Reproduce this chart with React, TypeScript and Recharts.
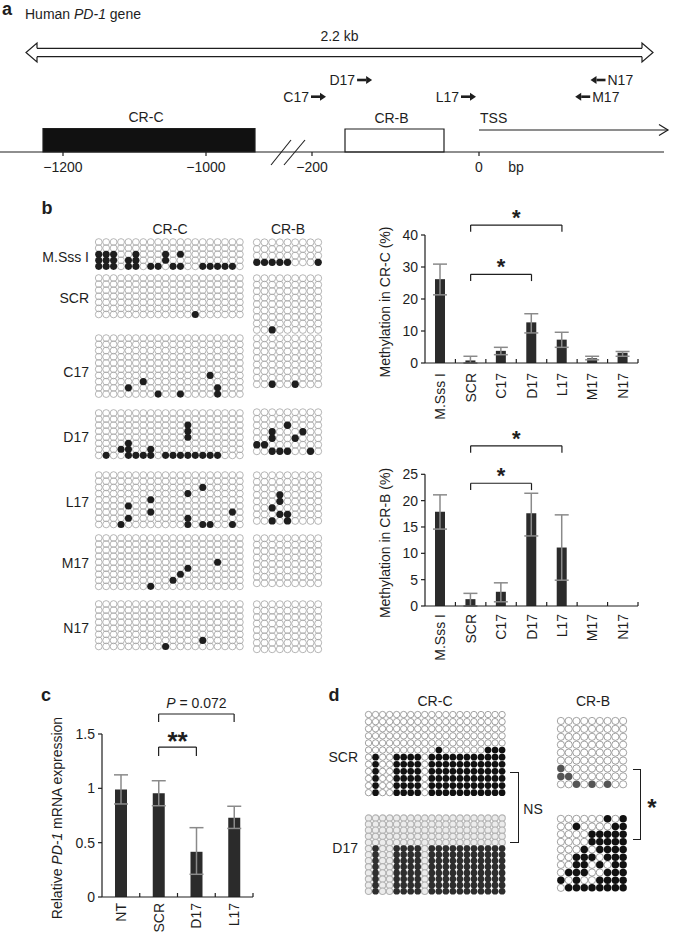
import React from "react";
import {
  Bar,
  BarChart,
  ErrorBar,
  ReferenceArea,
  ReferenceLine,
  Scatter,
  ScatterChart,
  XAxis,
  YAxis,
} from "recharts";

const FONT = '"Liberation Sans", Arial, Helvetica, sans-serif';
const INK = "#1e1e1e";

// ---- panel a: gene map (schematic map units, not to scale) ----
const geneBoxes = [
  { name: "CR-C", start: 43, end: 255, height: 23.5, filled: true },
  { name: "CR-B", start: 345, end: 444, height: 23, filled: false },
];
const tssPos = 479;
const tssEnd = 668;
const spanStart = 26;
const spanEnd = 653;
const breakPos = 288;
const mapTicks = [63, 206, 312, 479, 516];
const mapTickLabels = ["\u22121200", "\u22121000", "\u2212200", "0", "bp"];
const primerNames = ["D17", "C17", "L17", "N17", "M17"];
const primerPos = [364.6, 318.5, 468.5, 598, 582.7];
const primerLane = [2, 1, 1, 2, 1];
const primerDir = [1, 1, 1, -1, -1];

// ---- panel b: bisulfite clones, "1" = methylated CpG ----
const crcMsss = [
  "00000000000000000000",
  "00000000000000000000",
  "11100100010100000000",
  "11101100010000000000",
  "11101101101100111110",
];
const crbMsss = ["000000000", "000000000", "000000000", "111110001"];
const crcScr = [
  "00000000000000000000",
  "00000000000000000000",
  "00000000000000000000",
  "00000000000000000000",
  "00000000000000000000",
  "00000000000000000000",
  "00000000000001000000",
];
const crbScr = [
  "000000000",
  "000000000",
  "000000000",
  "000000000",
  "000000000",
  "000000000",
  "000000000",
  "000000000",
  "001000000",
];
const crcC17 = [
  "00000000000000000000",
  "00000000000000000000",
  "00000000000000000000",
  "00000000000000000000",
  "00000000000000000000",
  "00000000000000000000",
  "00000000000000010000",
  "00000010000000000000",
  "00001000000000001000",
  "00000000100100001000",
];
const crbC17 = [
  "000000000",
  "000000000",
  "000000000",
  "000000000",
  "000000000",
  "000000000",
  "000000000",
  "001001000",
];
const crcD17 = [
  "00000000000000000000",
  "00000000000000000000",
  "00000000000010000000",
  "00000000000010000000",
  "00000000000010000000",
  "00001000000000000000",
  "00011001000000000000",
  "01001111011111111000",
];
const crbD17 = [
  "000000000",
  "000000000",
  "000010000",
  "001000100",
  "001001000",
  "110000000",
  "001110010",
];
const crcL17 = [
  "00000000000000000000",
  "00000000000000000000",
  "00000000000000100000",
  "00000000000010000000",
  "00000001000000000000",
  "00001000000000000000",
  "00000001000000000010",
  "00001000000010000000",
  "00010000000010110010",
];
const crbL17 = [
  "000000000",
  "000000000",
  "000000000",
  "000100000",
  "000100000",
  "001000000",
  "000110000",
  "001010000",
];
const crcM17 = [
  "00000000000000000000",
  "00000000000000000000",
  "00000000000000000000",
  "00000000000000000000",
  "00000000000000001000",
  "00000000000010000000",
  "00000000000100000000",
  "00000000001000000000",
  "00000001000000000000",
];
const crbM17 = [
  "000000000",
  "000000000",
  "000000000",
  "000000000",
  "000000000",
  "000000000",
  "000000000",
  "000000000",
];
const crcN17 = [
  "00000000000000000000",
  "00000000000000000000",
  "00000000000000000000",
  "00000000000000000000",
  "00000000000000000000",
  "00000000000000000000",
  "00000000000000100000",
  "00000000010000000000",
];
const crbN17 = [
  "000000000",
  "000000000",
  "000000000",
  "000000000",
  "000000000",
  "000000000",
  "000000000",
  "000000000",
];

// ---- panel b: methylation bar charts ----
const methCategories = ["M.Sss I", "SCR", "C17", "D17", "L17", "M17", "N17"];
const crcMean = [26.2, 0.8, 3.8, 12.7, 7.3, 1.5, 3.2];
const crcLow = [21.3, 0, 2.6, 9.4, 4.9, 1.0, 2.1];
const crcHigh = [30.9, 2.1, 4.9, 15.4, 9.6, 2.1, 3.6];
const crbMean = [17.9, 1.3, 2.7, 17.6, 11.1, 0, 0];
const crbLow = [14.6, 0, 0.8, 13.3, 4.9, 0, 0];
const crbHigh = [21.1, 2.4, 4.4, 21.4, 17.3, 0, 0];
const crcTicks = [0, 10, 20, 30, 40];
const crbTicks = [0, 5, 10, 15, 20, 25];
const crcBrackets = [
  { from: "SCR", to: "D17", y: 27.7, drop: 2.1, text: "*" },
  { from: "SCR", to: "L17", y: 43.1, drop: 2.1, text: "*" },
];
const crbBrackets = [
  { from: "SCR", to: "D17", y: 23.3, drop: 1.3, text: "*" },
  { from: "SCR", to: "L17", y: 30.4, drop: 1.3, text: "*" },
];

// ---- panel c: PD-1 mRNA ----
const mrnaCategories = ["NT", "SCR", "D17", "L17"];
const mrnaMean = [0.99, 0.955, 0.416, 0.73];
const mrnaLow = [0.856, 0.84, 0.209, 0.631];
const mrnaHigh = [1.124, 1.07, 0.638, 0.835];
const mrnaTicks = [0, 0.5, 1, 1.5];
const mrnaBrackets = [
  { from: "SCR", to: "D17", y: 1.38, drop: 0.083, text: "**" },
  { from: "SCR", to: "L17", y: 1.684, drop: 0.074, text: "P = 0.072" },
];

// ---- panel d: clone comparison ----
const dCrcScr = [
  "00000000000000000000",
  "00000000000000000000",
  "00000000000000000000",
  "00000000000000000000",
  "00000000000000000000",
  "00000000001000000111",
  "01001111011111111111",
  "01001111011111111111",
  "01001111011111111111",
  "01001111011111111111",
  "01001111011111111111",
  "01001111011111111111",
];
const dCrcD17 = [
  "00000000000000000000",
  "00000000000000000000",
  "00000000000000000000",
  "00000000000000000000",
  "00000000000000000000",
  "01001111011111111111",
  "01001111011111111111",
  "01001111011111111111",
  "01001111011111111111",
  "01001111011111111111",
  "01001111011111111111",
  "01001111011111111111",
  "01001111011111111111",
];
const dCrbScr = [
  "000000000",
  "000000000",
  "000000000",
  "000000000",
  "000000000",
  "000000000",
  "100000000",
  "110000000",
  "001010100",
];
const dCrbD17 = [
  "000000101",
  "001000011",
  "000011111",
  "000011111",
  "000101111",
  "001110111",
  "001101011",
  "011100111",
  "101001111",
  "011111111",
];

type Pt = { col: number; row: number };

function Lollipop({
  rows,
  left,
  top,
  dx,
  dy,
  r,
  ring = "#a3a3a3",
  openFill = "none",
  dot = INK,
  ringWidth = 0.8,
}: any) {
  const nCols = rows[0].length;
  const nRows = rows.length;
  const open: Pt[] = [];
  const meth: Pt[] = [];
  rows.forEach((line: string, ri: number) =>
    line.split("").forEach((c, ci) => (c === "1" ? meth : open).push({ col: ci, row: ri }))
  );
  const pad = 2;
  return (
    <div style={{ position: "absolute", left: left - pad, top: top - pad }}>
      <ScatterChart
        width={nCols * dx + 2 * pad}
        height={nRows * dy + 2 * pad}
        margin={{ top: pad, right: pad, bottom: pad, left: pad }}
      >
        <XAxis type="number" dataKey="col" domain={[-0.5, nCols - 0.5]} hide />
        <YAxis type="number" dataKey="row" domain={[-0.5, nRows - 0.5]} reversed hide />
        <Scatter
          data={open}
          isAnimationActive={false}
          shape={(p: any) => (
            <circle cx={p.cx} cy={p.cy} r={r} fill={openFill} stroke={ring} strokeWidth={ringWidth} />
          )}
        />
        <Scatter
          data={meth}
          isAnimationActive={false}
          shape={(p: any) => <circle cx={p.cx} cy={p.cy} r={r + 0.15} fill={dot} />}
        />
      </ScatterChart>
    </div>
  );
}

function Txt({ x, y, children, size = 14, anchor = "middle", weight = 400, rotate = 0 }: any) {
  const tx = anchor === "start" ? "0" : anchor === "end" ? "-100%" : "-50%";
  return (
    <div
      style={{
        position: "absolute",
        left: x,
        top: y,
        fontSize: size,
        fontWeight: weight,
        lineHeight: 1,
        whiteSpace: "nowrap",
        transform: `translate(${tx}, -50%)${rotate ? ` rotate(${rotate}deg)` : ""}`,
      }}
    >
      {children}
    </div>
  );
}

const MapTick = ({ x, y, payload }: any) => {
  const lab = mapTickLabels[mapTicks.indexOf(payload.value)];
  return (
    <g>
      {lab !== "bp" && <line x1={x} x2={x} y1={y} y2={y + 4} stroke={INK} strokeWidth={1.2} />}
      <text x={x} y={y + 15} textAnchor="middle" dominantBaseline="central" fontSize={14} fontFamily={FONT} fill={INK}>
        {lab}
      </text>
    </g>
  );
};

const PrimerShape = ({ cx, cy, payload }: any) => {
  const d = payload.dir;
  const tail = cx - d * 7.5;
  const tip = cx + d * 7.5;
  const neck = tip - d * 6;
  return (
    <g>
      <line x1={tail} y1={cy} x2={neck} y2={cy} stroke={INK} strokeWidth={2.6} />
      <polygon points={`${tip},${cy} ${neck},${cy - 4} ${neck},${cy + 4}`} fill={INK} />
      <text
        x={tail - d * 2}
        y={cy}
        textAnchor={d > 0 ? "end" : "start"}
        dominantBaseline="central"
        fontSize={14}
        fontFamily={FONT}
        fill={INK}
      >
        {payload.name}
      </text>
    </g>
  );
};

const SpanHead = ({ cx, cy, payload }: any) => {
  const b = cx - payload.dir * 11;
  return (
    <path
      d={`M${b},${cy - 4.2} L${b},${cy - 9.5} L${cx},${cy} L${b},${cy + 9.5} L${b},${cy + 4.2}`}
      fill="#fff"
      stroke={INK}
      strokeWidth={1.2}
    />
  );
};

const LabelShape = ({ cx, cy, payload }: any) => (
  <text x={cx} y={cy} textAnchor={payload.anchor} dominantBaseline="central" fontSize={14} fontFamily={FONT} fill={INK}>
    {payload.text}
  </text>
);

function GeneMap() {
  const laneY = [0, 55.3, 72];
  const primers = primerNames.map((name, i) => ({
    x: primerPos[i],
    y: laneY[primerLane[i]],
    name,
    dir: primerDir[i],
  }));
  const mid = (spanStart + spanEnd) / 2;
  const spanY = 99.5;
  const labels = [
    { x: mid, y: 116.3, text: "2.2 kb", anchor: "middle" },
    ...geneBoxes.map((b) => ({ x: (b.start + b.end) / 2 - 3, y: b.height + 11.5, text: b.name, anchor: "middle" })),
    { x: tssPos + 1, y: 34, text: "TSS", anchor: "start" },
  ];
  const line = { stroke: INK, strokeWidth: 1.2 };
  return (
    <div style={{ position: "absolute", left: 0, top: 0 }}>
      <ScatterChart width={675} height={177} margin={{ top: 0, right: 0, bottom: 0, left: 0 }}>
        <XAxis
          type="number"
          dataKey="x"
          domain={[0, 675]}
          ticks={mapTicks}
          interval={0}
          tick={<MapTick />}
          tickLine={false}
          axisLine={false}
          tickSize={0}
          tickMargin={0}
          height={25}
        />
        <YAxis type="number" dataKey="y" domain={[0, 152]} hide />
        <ReferenceLine segment={[{ x: 0, y: 0 }, { x: 664, y: 0 }]} {...line} />
        {geneBoxes.map((b) => (
          <ReferenceArea
            key={b.name}
            x1={b.start}
            x2={b.end}
            y1={0}
            y2={b.height}
            fill={b.filled ? "#111" : "#fff"}
            fillOpacity={1}
            stroke={INK}
            strokeWidth={1.2}
          />
        ))}
        <ReferenceLine segment={[{ x: tssPos, y: -3 }, { x: tssPos, y: 22 }]} {...line} />
        <ReferenceLine segment={[{ x: tssPos, y: 22 }, { x: tssEnd, y: 22 }]} {...line} />
        <ReferenceLine segment={[{ x: spanStart + 11, y: spanY + 4.2 }, { x: spanEnd - 11, y: spanY + 4.2 }]} {...line} />
        <ReferenceLine segment={[{ x: spanStart + 11, y: spanY - 4.2 }, { x: spanEnd - 11, y: spanY - 4.2 }]} {...line} />
        <Scatter
          data={[
            { x: spanStart, y: spanY, dir: -1 },
            { x: spanEnd, y: spanY, dir: 1 },
          ]}
          isAnimationActive={false}
          shape={<SpanHead />}
        />
        <Scatter
          data={[{ x: tssEnd, y: 22 }]}
          isAnimationActive={false}
          shape={(p: any) => (
            <path d={`M${p.cx - 9},${p.cy - 5.5} L${p.cx},${p.cy} L${p.cx - 9},${p.cy + 5.5}`} fill="none" stroke={INK} strokeWidth={1.2} />
          )}
        />
        <Scatter
          data={[{ x: breakPos, y: 0 }]}
          isAnimationActive={false}
          shape={(p: any) => (
            <g stroke={INK} strokeWidth={1.1}>
              <line x1={p.cx - 17} y1={p.cy + 13} x2={p.cx + 3} y2={p.cy - 12} />
              <line x1={p.cx - 4} y1={p.cy + 13} x2={p.cx + 17} y2={p.cy - 12} />
            </g>
          )}
        />
        <Scatter data={primers} isAnimationActive={false} shape={<PrimerShape />} />
        <Scatter data={labels} isAnimationActive={false} shape={<LabelShape />} />
      </ScatterChart>
    </div>
  );
}

const BracketLabel = ({ viewBox, text, size, bold, lift }: any) => {
  if (!viewBox) return null;
  const x = viewBox.x1 !== undefined ? (viewBox.x1 + viewBox.x2) / 2 : viewBox.x + (viewBox.width || 0) / 2;
  const y = (viewBox.y1 !== undefined ? viewBox.y1 : viewBox.y) - lift;
  const isP = text.startsWith("P ");
  return (
    <text x={x} y={y} textAnchor="middle" fontSize={size} fontWeight={bold ? 700 : 400} fontFamily={FONT} fill={INK}>
      {isP ? (
        <>
          <tspan fontStyle="italic">P</tspan>
          {text.slice(1)}
        </>
      ) : (
        text
      )}
    </text>
  );
};

function BarPanel({
  left,
  top,
  width,
  height,
  marginTop,
  marginRight,
  yWidth,
  xHeight,
  cats,
  mean,
  low,
  high,
  max,
  ticks,
  barSize,
  capWidth,
  brackets,
  labelGap,
}: any) {
  const data = cats.map((name: string, i: number) => ({
    name,
    mean: mean[i],
    err: mean[i] === 0 ? undefined : [mean[i] - low[i], high[i] - mean[i]],
  }));
  const band = (width - yWidth - marginRight) / cats.length;
  const seg = { stroke: INK, strokeWidth: 1.2, ifOverflow: "visible" as const };
  const CatTick = ({ x, y, payload }: any) => (
    <g>
      <line x1={x + band / 2} x2={x + band / 2} y1={y} y2={y - 4} stroke={INK} strokeWidth={1.2} />
      <text
        x={x}
        y={y + labelGap}
        transform={`rotate(-90 ${x} ${y + labelGap})`}
        textAnchor="end"
        dominantBaseline="central"
        fontSize={14}
        fontFamily={FONT}
        fill={INK}
      >
        {payload.value}
      </text>
    </g>
  );
  return (
    <div style={{ position: "absolute", left, top }}>
      <BarChart
        width={width}
        height={height}
        data={data}
        margin={{ top: marginTop, right: marginRight, bottom: 0, left: 0 }}
      >
        <XAxis
          dataKey="name"
          interval={0}
          height={xHeight}
          tickLine={false}
          tickSize={0}
          tickMargin={0}
          axisLine={{ stroke: INK, strokeWidth: 1.2 }}
          tick={<CatTick />}
        />
        <YAxis
          domain={[0, max]}
          ticks={ticks}
          interval={0}
          width={yWidth}
          tickSize={4}
          tickMargin={3}
          axisLine={{ stroke: INK, strokeWidth: 1.2 }}
          tickLine={{ stroke: INK, strokeWidth: 1.2 }}
          tick={{ fill: INK, fontSize: 14, fontFamily: FONT }}
        />
        <Bar dataKey="mean" fill="#2b2b2b" barSize={barSize} isAnimationActive={false}>
          <ErrorBar dataKey="err" width={capWidth} stroke="#8a8a8a" strokeWidth={1.5} />
        </Bar>
        {brackets.map((b: any, i: number) => {
          const big = b.text.startsWith("*");
          const size = b.text === "**" ? 26 : big ? 22 : 14;
          const lift = b.text === "**" ? -3 : big ? 0 : 6;
          return (
            <React.Fragment key={i}>
              <ReferenceLine
                segment={[{ x: b.from, y: b.y }, { x: b.to, y: b.y }]}
                {...seg}
                label={(p: any) => <BracketLabel {...p} text={b.text} size={size} bold={big} lift={lift} />}
              />
              <ReferenceLine segment={[{ x: b.from, y: b.y }, { x: b.from, y: b.y - b.drop }]} {...seg} />
              <ReferenceLine segment={[{ x: b.to, y: b.y }, { x: b.to, y: b.y - b.drop }]} {...seg} />
            </React.Fragment>
          );
        })}
      </BarChart>
    </div>
  );
}

const bRowLabels = ["M.Sss I", "SCR", "C17", "D17", "L17", "M17", "N17"];
const bRowLabelY = [257, 298, 372, 437, 502, 563, 628];
const bBlocks = [
  [crcMsss, 239.0, 6.08, crbMsss, 238.7, 6.67],
  [crcScr, 275.0, 6.07, crbScr, 274.8, 6.46],
  [crcC17, 335.2, 6.22, crbC17, 335.0, 6.57],
  [crcD17, 409.7, 6.05, crbD17, 409.45, 6.5],
  [crcL17, 471.9, 6.17, crbL17, 471.7, 6.52],
  [crcM17, 535.3, 6.04, crbM17, 535.1, 6.43],
  [crcN17, 601.3, 6.06, crbN17, 601.1, 6.43],
];

export default function App() {
  return (
    <div
      style={{
        position: "absolute",
        left: 0,
        top: 0,
        width: 675,
        height: 933,
        background: "#fff",
        fontFamily: FONT,
        color: INK,
        overflow: "hidden",
      }}
    >
      <GeneMap />

      {bBlocks.map((b: any, i) => (
        <React.Fragment key={i}>
          <Lollipop rows={b[0]} left={95} top={b[1]} dx={7.43} dy={b[2]} r={3.4} />
          <Lollipop rows={b[3]} left={252.6} top={b[4]} dx={7.67} dy={b[5]} r={3.5} />
        </React.Fragment>
      ))}

      <BarPanel
        left={340}
        top={195}
        width={305}
        height={240}
        marginTop={40}
        marginRight={7}
        yWidth={85}
        xHeight={72}
        cats={methCategories}
        mean={crcMean}
        low={crcLow}
        high={crcHigh}
        max={40}
        ticks={crcTicks}
        barSize={10}
        capWidth={7}
        brackets={crcBrackets}
        labelGap={10}
      />
      <BarPanel
        left={340}
        top={420}
        width={305}
        height={258}
        marginTop={54.3}
        marginRight={7}
        yWidth={85}
        xHeight={72}
        cats={methCategories}
        mean={crbMean}
        low={crbLow}
        high={crbHigh}
        max={25}
        ticks={crbTicks}
        barSize={10}
        capWidth={7}
        brackets={crbBrackets}
        labelGap={8}
      />
      <BarPanel
        left={0}
        top={660}
        width={258}
        height={273}
        marginTop={74}
        marginRight={5}
        yWidth={102}
        xHeight={36}
        cats={mrnaCategories}
        mean={mrnaMean}
        low={mrnaLow}
        high={mrnaHigh}
        max={1.5}
        ticks={mrnaTicks}
        barSize={12}
        capWidth={7}
        brackets={mrnaBrackets}
        labelGap={6}
      />

      <Lollipop rows={dCrcScr} left={365} top={711.45} dx={7.03} dy={7.1} r={3.2} ring="#8a8a8a" dot="#111" />
      <Lollipop
        rows={dCrcD17}
        left={365}
        top={815.25}
        dx={7.03}
        dy={6.1}
        r={3.2}
        ring="#b4b4b4"
        openFill="#ececec"
        ringWidth={1.1}
        dot="#2e2e2e"
      />
      <Lollipop rows={dCrbScr} left={557.4} top={716.7} dx={7.78} dy={7.92} r={3.6} ring="#8a8a8a" dot="#555" />
      <Lollipop rows={dCrbD17} left={557.4} top={814.5} dx={7.78} dy={7.67} r={3.6} ring="#8a8a8a" dot="#111" />

      {/* panel text */}
      <Txt x={7} y={9} size={18} weight={700}>a</Txt>
      <Txt x={25} y={14} anchor="start">
        Human <i>PD-1</i> gene
      </Txt>

      <Txt x={47} y={208} size={18} weight={700}>b</Txt>
      <Txt x={170} y={229}>CR-C</Txt>
      <Txt x={288} y={229}>CR-B</Txt>
      {bRowLabels.map((t, i) => (
        <Txt key={t} x={89} y={bRowLabelY[i]} anchor="end">
          {t}
        </Txt>
      ))}
      <Txt x={385} y={301.7} rotate={-90}>Methylation in CR-C (%)</Txt>
      <Txt x={385} y={542.5} rotate={-90}>Methylation in CR-B (%)</Txt>

      <Txt x={46} y={695} size={18} weight={700}>c</Txt>
      <Txt x={57} y={818} rotate={-90}>
        Relative <i>PD-1</i> mRNA expression
      </Txt>

      <Txt x={334} y={695} size={18} weight={700}>d</Txt>
      <Txt x={435} y={701}>CR-C</Txt>
      <Txt x={593} y={701}>CR-B</Txt>
      <Txt x={358} y={757} anchor="end">SCR</Txt>
      <Txt x={358} y={848} anchor="end">D17</Txt>
      <div
        style={{
          position: "absolute",
          left: 510,
          top: 772,
          width: 8,
          height: 69,
          border: `1.3px solid ${INK}`,
          borderLeft: "none",
        }}
      />
      <Txt x={533} y={809}>NS</Txt>
      <div
        style={{
          position: "absolute",
          left: 633,
          top: 769,
          width: 7,
          height: 69,
          border: `1.3px solid ${INK}`,
          borderLeft: "none",
        }}
      />
      <Txt x={652} y={808} size={24} weight={700}>*</Txt>
    </div>
  );
}
